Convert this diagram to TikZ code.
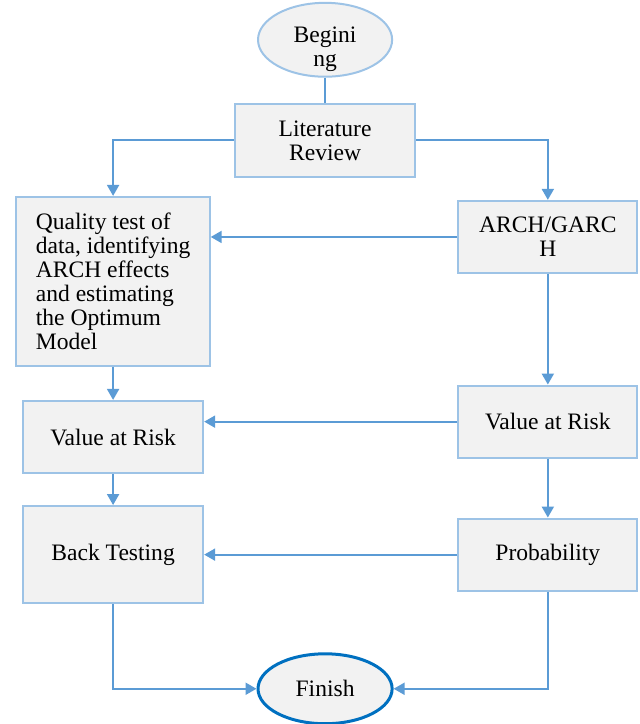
\documentclass[tikz,border=0pt]{standalone}
\usepackage{fontspec}
\setmainfont{Liberation Serif}
\usetikzlibrary{arrows.meta, shapes.geometric}
\definecolor{boxfill}{HTML}{F2F2F2}
\definecolor{boxline}{HTML}{9DC3E6}
\definecolor{flowline}{HTML}{5B9BD5}
\definecolor{endline}{HTML}{0070C0}

\begin{document}
\begin{tikzpicture}[
    box/.style={rectangle, draw=boxline, fill=boxfill, line width=1pt, align=center, font=\fontsize{11.8}{12}\selectfont},
    oval/.style={ellipse, draw=boxline, fill=boxfill, line width=1pt, inner sep=0pt, align=center, font=\fontsize{11.8}{12}\selectfont},
    flow/.style={draw=flowline, line width=1pt, -{Triangle[length=5.5pt, width=6pt]}}
  ]
    \useasboundingbox (0, 0) rectangle (11.26, 12.74);

    \node[oval, minimum width=2.36cm, minimum height=1.30cm] (begin) at (5.72, 12.04) {\raisebox{-8pt}[0pt][0pt]{\begin{tabular}{@{}c@{}}Begini\\ng\end{tabular}}};
    \node[box, minimum width=3.17cm, minimum height=1.28cm] (review) at (5.72, 10.27) {Literature\\Review};
    \node[box, minimum width=3.40cm, minimum height=2.97cm, align=left] (quality) at (1.99, 7.79) {Quality test of\\data, identifying\\ARCH effects\\and estimating\\the Optimum\\Model};
    \node[box, minimum width=3.15cm, minimum height=1.27cm] (arch) at (9.64, 8.57) {ARCH/GARC\\H};
    \node[box, minimum width=3.15cm, minimum height=1.27cm] (varright) at (9.64, 5.32) {Value at Risk};
    \node[box, minimum width=3.17cm, minimum height=1.27cm] (varleft) at (1.99, 5.05) {Value at Risk};
    \node[box, minimum width=3.17cm, minimum height=1.71cm] (backtest) at (1.99, 2.98) {Back Testing};
    \node[box, minimum width=3.15cm, minimum height=1.27cm] (prob) at (9.64, 2.98) {Probability};
    \node[oval, draw=endline, line width=1.5pt, minimum width=2.36cm, minimum height=1.23cm] (finish) at (5.72, 0.62) {Finish};

    \draw[draw=flowline, line width=1pt] (begin) -- (review);
    \draw[flow] (review.west) -| (quality.north);
    \draw[flow] (review.east) -| (arch.north);
    \draw[flow] (arch.west) -- (arch.west -| quality.east);
    \draw[flow] (arch) -- (varright);
    \draw[flow] (quality) -- (varleft);
    \draw[flow] (varright.west) -- (varright.west -| varleft.east);
    \draw[flow] (varleft) -- (backtest);
    \draw[flow] (varright) -- (prob);
    \draw[flow] (prob.west) -- (prob.west -| backtest.east);
    \draw[flow] (backtest.south) |- (finish.west);
    \draw[flow] (prob.south) |- (finish.east);

  \end{tikzpicture}
\end{document}
